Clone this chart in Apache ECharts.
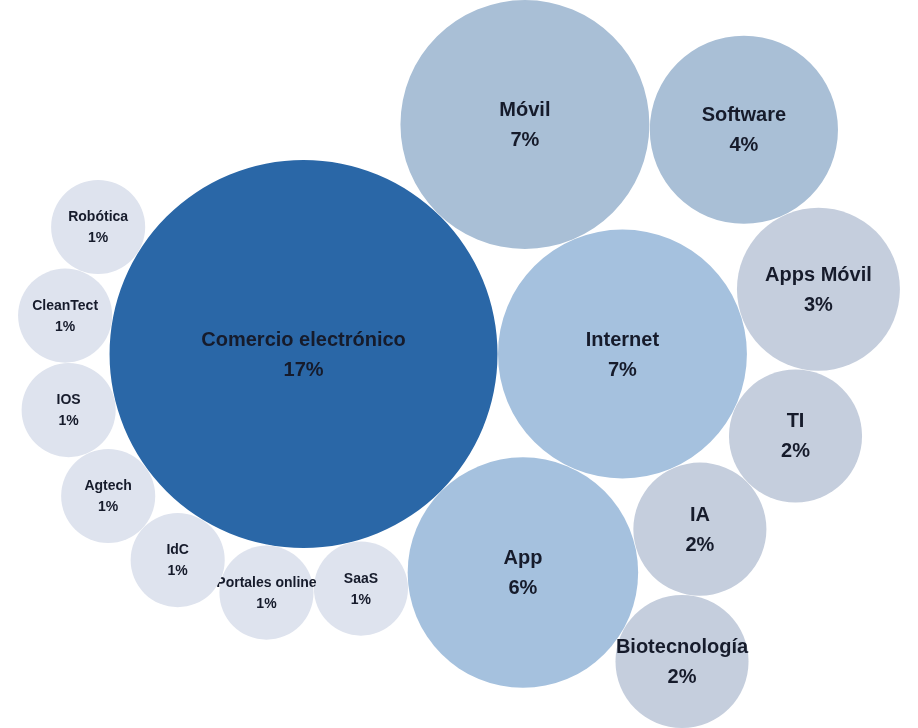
<!DOCTYPE html>
<html>
<head>
<meta charset="utf-8">
<title>Sectores</title>
<script src="https://cdn.jsdelivr.net/npm/echarts@6/dist/echarts.min.js"></script>
<style>
  html, body { margin: 0; padding: 0; background: #ffffff; }
  #chart { width: 918px; height: 728px; }
</style>
</head>
<body>
<div id="chart"></div>
<script>
// Sector shares (percent of startups)
const categories = [
  'Comercio electrónico', 'Internet', 'Móvil', 'Software', 'Apps Móvil', 'TI', 'IA',
  'App', 'Biotecnología', 'SaaS', 'Portales online', 'IdC', 'Agtech', 'IOS', 'CleanTect', 'Robótica'
];
const shares = [17, 7, 7, 4, 3, 2, 2, 6, 2, 1, 1, 1, 1, 1, 1, 1];

// Packing order: each bubble sits against two bubbles already placed.
// [bubble, first neighbour, second neighbour, side (+1 right / -1 left of the first->second direction)]
const packing = [
  ['Móvil', 'Comercio electrónico', 'Internet', -1],
  ['App', 'Comercio electrónico', 'Internet', 1],
  ['IA', 'App', 'Internet', 1],
  ['Biotecnología', 'App', 'IA', 1],
  ['TI', 'IA', 'Internet', 1],
  ['Apps Móvil', 'TI', 'Internet', 1],
  ['Software', 'Apps Móvil', 'Móvil', 1],
  ['SaaS', 'Comercio electrónico', 'App', 1],
  ['Portales online', 'Comercio electrónico', 'SaaS', 1],
  ['IdC', 'Comercio electrónico', 'Portales online', 1],
  ['Agtech', 'Comercio electrónico', 'IdC', 1],
  ['IOS', 'Comercio electrónico', 'Agtech', 1],
  ['CleanTect', 'Comercio electrónico', 'IOS', 1],
  ['Robótica', 'Comercio electrónico', 'CleanTect', 1]
];

const palette = {
  'Comercio electrónico': '#2a67a7',
  'Internet': '#a5c1de', 'App': '#a5c1de',
  'Móvil': '#a9bfd6', 'Software': '#a9bfd6',
  'Apps Móvil': '#c5cedd', 'TI': '#c5cedd', 'IA': '#c5cedd', 'Biotecnología': '#c5cedd'
};
const smallColor = '#dee3ee';

const W = 918, H = 728;
const GAP = 0.01;          // spacing between touching bubbles, in layout units
const FIRST_ANGLE = 0;     // direction of the second bubble from the first (radians)

// bubble area proportional to share
const radius = v => Math.sqrt(v);

function against(a, b, r, side) {
  const dx = b.x - a.x, dy = b.y - a.y;
  const D = Math.hypot(dx, dy);
  const ux = dx / D, uy = dy / D;
  const da = a.r + r + GAP, db = b.r + r + GAP;
  const t = (da * da - db * db + D * D) / (2 * D);
  const h = Math.sqrt(Math.max(0, da * da - t * t));
  return { x: a.x + ux * t - side * uy * h, y: a.y + uy * t + side * ux * h, r: r };
}

const placed = {};
const r0 = radius(shares[0]);
placed[categories[0]] = { x: 0, y: 0, r: r0 };
const r1 = radius(shares[1]);
placed[categories[1]] = {
  x: (r0 + r1 + GAP) * Math.cos(FIRST_ANGLE),
  y: (r0 + r1 + GAP) * Math.sin(FIRST_ANGLE),
  r: r1
};
packing.forEach(([name, a, b, side]) => {
  const v = shares[categories.indexOf(name)];
  placed[name] = against(placed[a], placed[b], radius(v), side);
});

// frame the packed bubbles in the canvas at one common scale
let x0 = Infinity, x1 = -Infinity, y0 = Infinity, y1 = -Infinity;
categories.forEach(n => {
  const p = placed[n];
  x0 = Math.min(x0, p.x - p.r); x1 = Math.max(x1, p.x + p.r);
  y0 = Math.min(y0, p.y - p.r); y1 = Math.max(y1, p.y + p.r);
});
const scale = Math.min(W / (x1 - x0), H / (y1 - y0));
const cx = (x0 + x1) / 2, cy = (y0 + y1) / 2;
const halfW = W / scale / 2, halfH = H / scale / 2;

const seriesData = categories.map((n, i) => {
  const p = placed[n];
  return { name: n, value: [p.x, p.y, p.r, shares[i]] };
});

const chart = echarts.init(document.getElementById('chart'), null, { renderer: 'canvas' });
chart.setOption({
  animation: false,
  backgroundColor: '#ffffff',
  grid: { left: 0, right: 0, top: 0, bottom: 0 },
  xAxis: { type: 'value', min: cx - halfW, max: cx + halfW, show: false },
  yAxis: { type: 'value', min: cy - halfH, max: cy + halfH, inverse: true, show: false },
  series: [{
    type: 'custom',
    coordinateSystem: 'cartesian2d',
    data: seriesData,
    encode: { x: 0, y: 1 },
    renderItem: function (params, api) {
      const name = categories[params.dataIndex];
      const v = api.value(3);
      const c = api.coord([api.value(0), api.value(1)]);
      const rp = api.size([api.value(2), 0])[0];
      const big = v >= 2;
      const fs = big ? 20 : 14;
      const lh = big ? 30 : 21;
      return {
        type: 'group',
        children: [
          {
            type: 'circle',
            shape: { cx: c[0], cy: c[1], r: rp },
            style: { fill: palette[name] || smallColor }
          },
          {
            type: 'text',
            style: {
              text: name + '\n' + v + '%',
              x: c[0], y: c[1] + 1,
              align: 'center', verticalAlign: 'middle',
              font: 'bold ' + fs + 'px "Liberation Sans", Arial, sans-serif',
              lineHeight: lh,
              fill: '#161b2b'
            }
          }
        ]
      };
    }
  }]
});
</script>
</body>
</html>
